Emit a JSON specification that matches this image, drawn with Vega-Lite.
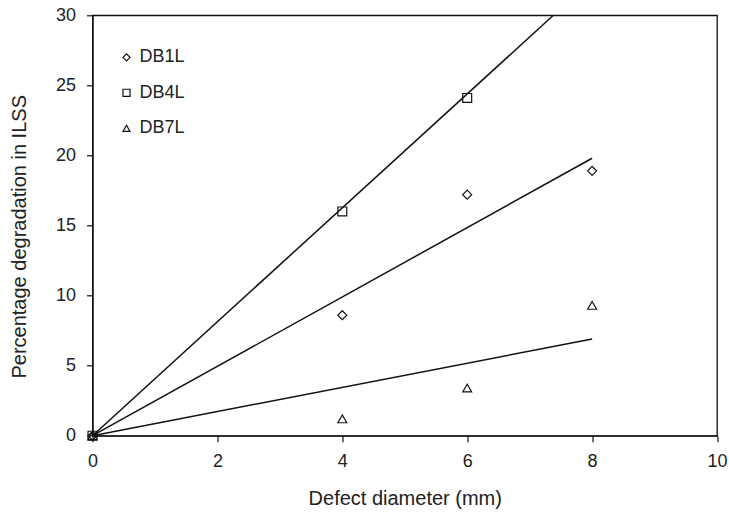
{
  "$schema": "https://vega.github.io/schema/vega-lite/v6.json",
  "width": 624.5,
  "height": 420.4,
  "autosize": {"type": "none"},
  "padding": {"left": 92.5, "top": 15.3, "right": 12, "bottom": 77.3},
  "background": "white",
  "config": {
    "font": "Liberation Sans",
    "view": {"stroke": "#111", "strokeWidth": 1.3},
    "axis": {
      "grid": false,
      "domainColor": "#111",
      "domainWidth": 1.3,
      "tickColor": "#111",
      "tickWidth": 1.2,
      "tickSize": 6,
      "labelFont": "Liberation Sans",
      "labelFontSize": 18,
      "labelColor": "#222",
      "labelPadding": 11,
      "labelFlush": false,
      "labelOverlap": false,
      "titleFont": "Liberation Sans",
      "titleFontSize": 20,
      "titleFontWeight": "normal",
      "titleColor": "#222"
    },
    "legend": {
      "labelFont": "Liberation Sans",
      "labelFontSize": 18,
      "labelColor": "#222",
      "padding": 0
    }
  },
  "datasets": {
    "points": [
      {"series": "DB1L", "d": 0, "v": 0},
      {"series": "DB1L", "d": 4, "v": 8.6},
      {"series": "DB1L", "d": 6, "v": 17.2},
      {"series": "DB1L", "d": 8, "v": 18.9},
      {"series": "DB4L", "d": 0, "v": 0},
      {"series": "DB4L", "d": 4, "v": 16.0},
      {"series": "DB4L", "d": 6, "v": 24.1},
      {"series": "DB7L", "d": 0, "v": 0},
      {"series": "DB7L", "d": 4, "v": 1.2},
      {"series": "DB7L", "d": 6, "v": 3.4},
      {"series": "DB7L", "d": 8, "v": 9.3}
    ],
    "fits": [
      {"series": "DB1L", "d": 0, "v": 0},
      {"series": "DB1L", "d": 8, "v": 19.8},
      {"series": "DB4L", "d": 0, "v": 0},
      {"series": "DB4L", "d": 7.38, "v": 30},
      {"series": "DB7L", "d": 0, "v": 0},
      {"series": "DB7L", "d": 8, "v": 6.9}
    ]
  },
  "layer": [
    {
      "data": {"name": "fits"},
      "mark": {"type": "line", "color": "#111", "strokeWidth": 1.5},
      "encoding": {
        "x": {"field": "d", "type": "quantitative"},
        "y": {"field": "v", "type": "quantitative"},
        "detail": {"field": "series", "type": "nominal"}
      }
    },
    {
      "data": {"name": "points"},
      "mark": {"type": "point", "filled": false, "color": "#111", "strokeWidth": 1.2, "size": 80, "opacity": 1},
      "encoding": {
        "x": {
          "field": "d", "type": "quantitative",
          "scale": {"domain": [0, 10], "nice": false, "zero": false},
          "axis": {"values": [0, 2, 4, 6, 8, 10], "format": "d", "title": "Defect diameter (mm)", "titleY": 69, "titleBaseline": "alphabetic"}
        },
        "y": {
          "field": "v", "type": "quantitative",
          "scale": {"domain": [0, 30], "nice": false, "zero": false},
          "axis": {"values": [0, 5, 10, 15, 20, 25, 30], "format": "d", "title": "Percentage degradation in ILSS", "titleX": -67, "titleY": 221, "titleAngle": -90, "titleAlign": "center", "titleBaseline": "alphabetic"}
        },
        "shape": {
          "field": "series", "type": "nominal",
          "scale": {"domain": ["DB1L", "DB4L", "DB7L"], "range": ["diamond", "square", "triangle-up"]},
          "legend": {
            "title": null,
            "orient": "none",
            "legendX": 25,
            "legendY": 33,
            "symbolSize": 50,
            "symbolStrokeColor": "#111",
            "symbolStrokeWidth": 1.2,
            "symbolOpacity": 1,
            "labelOffset": 4,
            "rowPadding": 17.5
          }
        }
      }
    }
  ]
}
